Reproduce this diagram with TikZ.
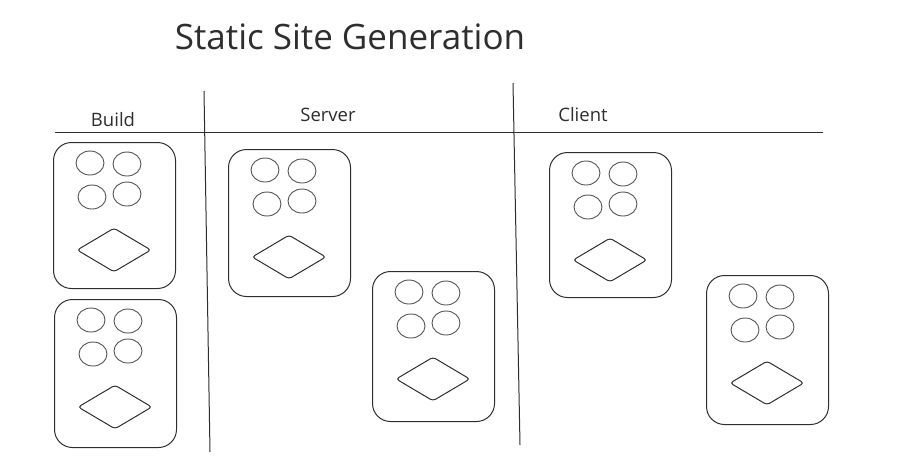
\documentclass[tikz,border=0pt]{standalone}
\usepackage{fontspec}
\setmainfont{Open Sans}
\usetikzlibrary{shapes.geometric}
\definecolor{ink}{HTML}{2E2E2E}
\definecolor{soft}{HTML}{555555}
\tikzset{
  card/.style={draw=ink, line width=1pt, rounded corners=18pt, minimum width=122pt, minimum height=146pt, inner sep=0pt, anchor=north west},
  dot/.style={draw=soft, line width=0.9pt, ellipse, minimum width=28pt, minimum height=24pt, inner sep=0pt},
  gem/.style={draw=ink, line width=1pt, diamond, rounded corners=3pt, minimum width=74pt, minimum height=44pt, inner sep=0pt},
  rule/.style={draw=ink, line width=1pt},
  lane/.style={font=\fontsize{18.5}{22}\selectfont, text=ink},
}
\newcommand{\devcard}[4]{%
  \node[card, minimum height=#4pt] (#1) at (#2,#3) {};
  \node[dot] (#1c1) at ([shift={(37pt,-21pt)}]#1.north west) {};
  \node[dot] (#1c2) at ([shift={(74pt,-22pt)}]#1.north west) {};
  \node[dot] (#1c3) at ([shift={(39pt,-55pt)}]#1.north west) {};
  \node[dot] (#1c4) at ([shift={(74pt,-52pt)}]#1.north west) {};
  \node[gem] (#1d) at ([shift={(61pt,-108pt)}]#1.north west) {};
}
\begin{document}
\begin{tikzpicture}[x=1pt,y=-1pt]
\useasboundingbox (0,0) rectangle (902,475);
\node[font=\fontsize{35}{42}\selectfont, text=ink] (title) at (350,37) {Static Site Generation};
\coordinate (hl) at (55,132);
\coordinate (hr) at (823,132);
\draw[rule] (hl) -- (hr);
\coordinate (v1t) at (204,91);
\coordinate (v1b) at (210,452);
\coordinate (v2t) at (513,83);
\coordinate (v2b) at (520,445);
\draw[rule] (v1t) -- (v1b);
\draw[rule] (v2t) -- (v2b);
\node[lane] (build) at (113,120) {Build};
\node[lane] (server) at (328,115) {Server};
\node[lane] (client) at (583,115) {Client};
\devcard{a}{53}{142}{146}
\devcard{b}{54}{299}{148}
\devcard{c}{228}{149}{147}
\devcard{d}{372}{271}{150}
\devcard{e}{549}{152}{145}
\devcard{f}{706}{275}{149}
\end{tikzpicture}
\end{document}
